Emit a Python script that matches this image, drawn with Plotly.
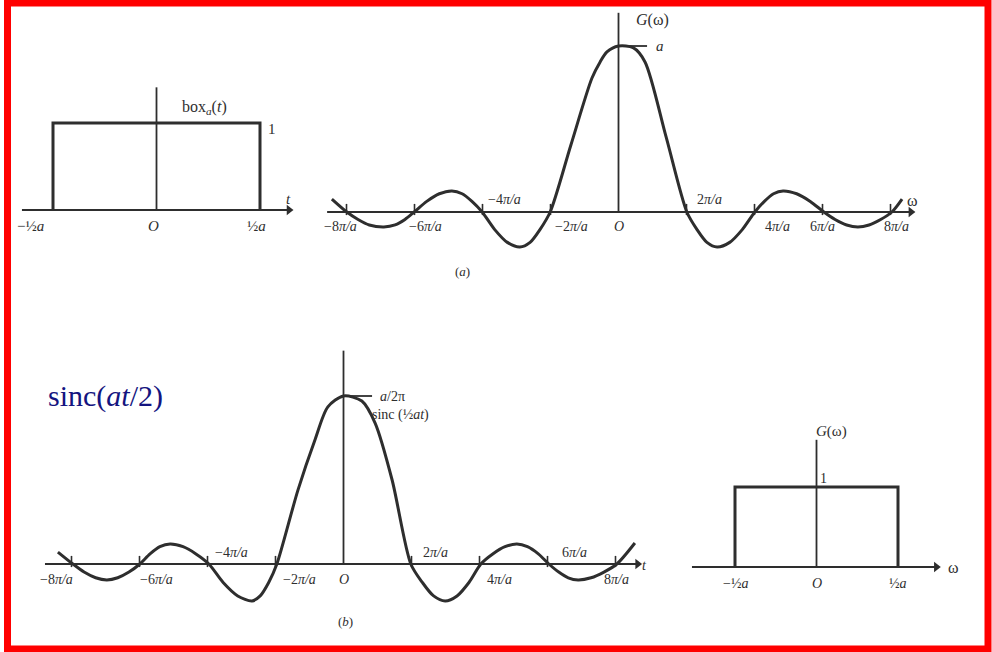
import plotly.graph_objects as go

W, H = 992, 652

# ---------------- data ----------------
# box functions (unit: a for t, a for omega)
box_x = [-0.5, -0.5, 0.5, 0.5]
box_y = [0, 1, 1, 0]

# top spectrum G(omega): x in units of pi/a, y in units of a
sinc_a_x = [-8.43, -7.99, -7.66, -7.33, -6.9, -6.57, -6.28, -6.01,
            -5.64, -5.27, -4.9, -4.6, -4.31, -4.01,
            -3.64, -3.27, -2.9, -2.6, -2.31, -2.01,
            -1.4, -0.78, -0.54, -0.34, 0, 0.43, 0.78, 1.4, 2.01,
            2.31, 2.6, 2.9, 3.27, 3.64, 4.01,
            4.29, 4.56, 4.84, 5.24, 5.64, 6.04,
            6.37, 6.71, 7.04, 7.37, 7.71, 8.04, 8.34]
sinc_a_y = [0.078, 0, -0.045, -0.078, -0.09, -0.078, -0.045, 0,
            0.064, 0.11, 0.127, 0.11, 0.064, 0,
            -0.106, -0.183, -0.211, -0.183, -0.106, 0,
            0.404, 0.807, 0.904, 0.964, 1.0, 0.99, 0.904, 0.452, 0,
            -0.106, -0.183, -0.211, -0.183, -0.106, 0,
            0.064, 0.11, 0.127, 0.11, 0.064, 0,
            -0.045, -0.078, -0.09, -0.078, -0.045, 0, 0.078]

# bottom sinc(at/2): x in units of pi/a, y in units of a/2pi
sinc_b_x = [-8.4, -7.96, -7.63, -7.29, -6.96, -6.64, -6.31, -5.99,
            -5.69, -5.4, -5.1, -4.72, -4.34, -3.96,
            -3.54, -3.11, -2.69, -2.45, -2.2, -1.96,
            -1.34, -0.84, -0.46, 0, 0.54, 0.93, 1.43, 1.98,
            2.32, 2.65, 2.99, 3.34, 3.69, 4.04,
            4.39, 4.75, 5.1, 5.41, 5.73, 6.04,
            6.33, 6.61, 6.9, 7.28, 7.66, 8.04, 8.57]
sinc_b_y = [0.071, 0, -0.048, -0.082, -0.095, -0.082, -0.048, 0,
            0.06, 0.103, 0.119, 0.103, 0.06, 0,
            -0.11, -0.19, -0.22, -0.19, -0.11, 0,
            0.44, 0.738, 0.935, 1.0, 0.97, 0.839, 0.5, 0,
            -0.11, -0.19, -0.22, -0.19, -0.11, 0,
            0.06, 0.103, 0.119, 0.103, 0.06, 0,
            -0.048, -0.082, -0.095, -0.082, -0.048, 0, 0.125]

zeros = [-8, -6, -4, -2, 2, 4, 6, 8]
zero_labels = ["−8<i>π/a</i>", "−6<i>π/a</i>", "−4<i>π/a</i>", "−2<i>π/a</i>",
               "2<i>π/a</i>", "4<i>π/a</i>", "6<i>π/a</i>", "8<i>π/a</i>"]
box_labels = ["−½<i>a</i>", "<i>O</i>", "½<i>a</i>"]
box_label_x = [-0.5, 0, 0.5]

# ---------------- layout helpers ----------------
INK = "#2e2e2e"
FONT = "Liberation Serif"

# panel: pixel box (x0,x1,y0,y1), origin pixel (ox,oy), scale px/unit (sx,sy)
panels = {
    1: dict(box=(15, 300, 75, 245), o=(156.5, 210), s=(207, 87)),
    2: dict(box=(315, 935, 8, 290), o=(618.5, 212), s=(34, 166)),
    3: dict(box=(25, 665, 345, 640), o=(343.5, 564), s=(34, 168)),
    4: dict(box=(685, 975, 420, 605), o=(816.5, 567), s=(163, 80)),
}

fig = go.Figure()
layout = {}
for k, p in panels.items():
    x0, x1, y0, y1 = p["box"]
    ox, oy = p["o"]
    sx, sy = p["s"]
    sfx = "" if k == 1 else str(k)
    layout["xaxis" + sfx] = dict(domain=[x0 / W, x1 / W], range=[(x0 - ox) / sx, (x1 - ox) / sx],
                                 visible=False, anchor="y" + sfx, fixedrange=True)
    layout["yaxis" + sfx] = dict(domain=[1 - y1 / H, 1 - y0 / H], range=[(oy - y1) / sy, (oy - y0) / sy],
                                 visible=False, anchor="x" + sfx, fixedrange=True)
fig.update_layout(**layout)


def ax(k):
    return ("x", "y") if k == 1 else ("x%d" % k, "y%d" % k)


annotations = []
shapes = []


def label(k, x, y, text, size=14, **kw):
    xr, yr = ax(k)
    annotations.append(dict(x=x, y=y, xref=xr, yref=yr, text=text, showarrow=False,
                            font=dict(family=FONT, size=size, color=INK), **kw))


def hline(k, xa, xb, y, w=1.8):
    xr, yr = ax(k)
    shapes.append(dict(type="line", xref=xr, yref=yr, x0=xa, x1=xb, y0=y, y1=y,
                       line=dict(color=INK, width=w)))


def vline(k, x, ya, yb, w=1.8):
    xr, yr = ax(k)
    shapes.append(dict(type="line", xref=xr, yref=yr, x0=x, x1=x, y0=ya, y1=yb,
                       line=dict(color=INK, width=w)))


def haxis(k, xa, xb):
    xr, yr = ax(k)
    hline(k, xa, xb, 0)
    fig.add_trace(go.Scatter(x=[xb], y=[0], xaxis=xr, yaxis=yr, mode="markers",
                             marker=dict(symbol="triangle-right", size=9, color=INK),
                             hoverinfo="skip", showlegend=False))


def curve(k, xs, ys, spline=False):
    xr, yr = ax(k)
    fig.add_trace(go.Scatter(x=xs, y=ys, xaxis=xr, yaxis=yr, mode="lines",
                             line=dict(color=INK, width=3, shape="spline" if spline else "linear",
                                       smoothing=0.8 if spline else None),
                             hoverinfo="skip", showlegend=False))


def ticks(k, xs, sy):
    xr, yr = ax(k)
    fig.add_trace(go.Scatter(x=xs, y=[2.5 / sy] * len(xs), xaxis=xr, yaxis=yr, mode="markers",
                             marker=dict(symbol="line-ns", size=8, line=dict(color=INK, width=1.6)),
                             hoverinfo="skip", showlegend=False))


# ---- panel 1: box_a(t)
haxis(1, -0.65, 0.64)
vline(1, 0, 0, 1.41)
curve(1, box_x, box_y)
label(1, 0.234, 1.18, "box<sub><i>a</i></sub>(<i>t</i>)", 16)
label(1, 0.56, 0.93, "1", 15)
for xv, t in zip([-0.61, -0.015, 0.485], box_labels):
    label(1, xv, -0.18, t, 15)
label(1, 0.64, 0.13, "<i>t</i>", 15)

# ---- panel 2: G(omega)
haxis(2, -8.57, 8.6)
vline(2, 0, 0, 1.2)
hline(2, 0, 0.84, 1.0)
curve(2, sinc_a_x, sinc_a_y, spline=True)
ticks(2, zeros, 166)
label(2, 1.0, 1.155, "<i>G</i>(ω)", 16)
label(2, 1.22, 1.0, "<i>a</i>", 15)
pos2 = [(-8.19, -0.09), (-5.69, -0.09), (-3.34, 0.078), (-1.37, -0.09),
        (2.69, 0.078), (4.69, -0.09), (6.01, -0.09), (8.19, -0.09)]
for (xv, yv), t in zip(pos2, zero_labels):
    label(2, xv, yv, t, 14)
label(2, 0, -0.09, "<i>O</i>", 14)
label(2, 8.65, 0.07, "ω", 16)
label(2, -4.6, -0.36, "(<i>a</i>)", 13)

# ---- panel 3: sinc(at/2)
haxis(3, -8.78, 8.65)
vline(3, 0, 0, 1.27)
hline(3, 0, 0.84, 1.0)
curve(3, sinc_b_x, sinc_b_y, spline=True)
ticks(3, zeros, 168)
pos3 = [(-8.43, -0.095), (-5.49, -0.095), (-3.28, 0.071), (-1.28, -0.095),
        (2.72, 0.066), (4.6, -0.095), (6.8, 0.066), (8.04, -0.095)]
for (xv, yv), t in zip(pos3, zero_labels):
    label(3, xv, yv, t, 14)
label(3, 0, -0.095, "<i>O</i>", 14)
label(3, 8.85, -0.01, "<i>t</i>", 14)
label(3, 0.05, -0.345, "(<i>b</i>)", 13)
label(3, 1.43, 1.0, "<i>a</i>/2π", 14)
label(3, 1.68, 0.885, "sinc (½<i>at</i>)", 14)
xr3, yr3 = ax(3)
annotations.append(dict(x=-7.0, y=1.0, xref=xr3, yref=yr3, showarrow=False,
                        text="sinc(<i>at</i>/2)",
                        font=dict(family=FONT, size=30, color="#141480")))

# ---- panel 4: G(omega) box
haxis(4, -0.764, 0.735)
vline(4, 0, 0, 1.59)
curve(4, box_x, box_y)
label(4, 0.09, 1.69, "<i>G</i>(ω)", 15)
label(4, 0.04, 1.11, "1", 14)
for xv, t in zip(box_label_x, box_labels):
    label(4, xv, -0.21, t, 14)
label(4, 0.84, 0.0, "ω", 16)

# red frame
shapes.append(dict(type="rect", xref="paper", yref="paper",
                   x0=7.5 / W, x1=988 / W, y0=1 - 649 / H, y1=1 - 3 / H,
                   line=dict(color="#ff0000", width=7)))

fig.update_layout(width=W, height=H, margin=dict(l=0, r=0, t=0, b=0),
                  paper_bgcolor="white", plot_bgcolor="rgba(0,0,0,0)",
                  annotations=annotations, shapes=shapes, showlegend=False)

fig.write_html("out.html", config=dict(displayModeBar=False),
               post_script="document.body.style.margin='0';document.body.style.overflow='hidden';")
